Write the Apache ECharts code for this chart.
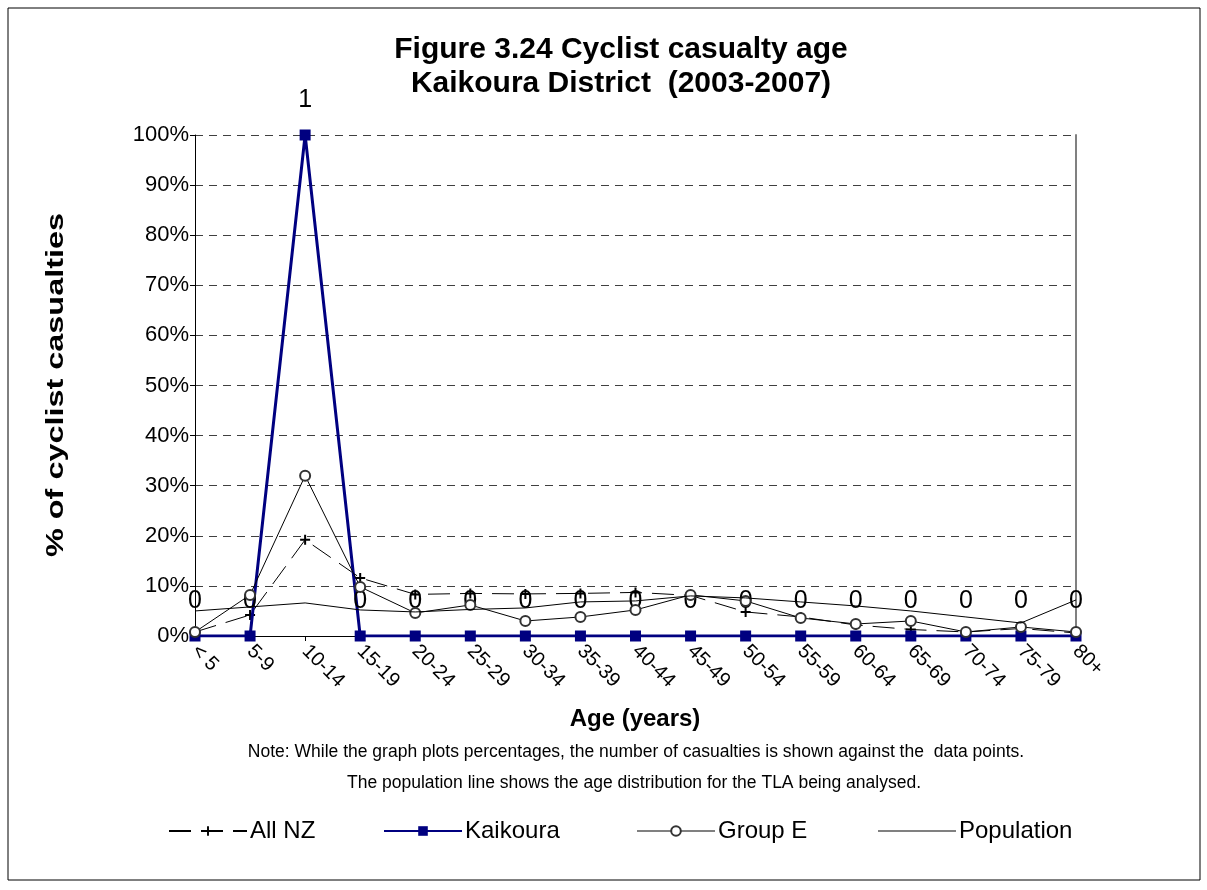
<!DOCTYPE html>
<html>
<head>
<meta charset="utf-8">
<script src="https://cdn.jsdelivr.net/npm/echarts@6/dist/echarts.min.js"></script>
<style>
html,body{margin:0;padding:0;background:#fff;}
#chart{width:1207px;height:890px;}
</style>
</head>
<body>
<div id="chart"></div>
<script>
var categories = ['< 5','5-9','10-14','15-19','20-24','25-29','30-34','35-39','40-44','45-49','50-54','55-59','60-64','65-69','70-74','75-79','80+'];
var allNZ = [0.8, 4.2, 19.2, 11.6, 8.3, 8.5, 8.4, 8.5, 8.7, 8.1, 4.8, 3.8, 2.2, 1.3, 0.8, 1.5, 0.6];
var kaikoura = [0, 0, 100, 0, 0, 0, 0, 0, 0, 0, 0, 0, 0, 0, 0, 0, 0];
var kaikouraCounts = [0, 0, 1, 0, 0, 0, 0, 0, 0, 0, 0, 0, 0, 0, 0, 0, 0];
var groupE = [0.8, 8.2, 32.0, 9.8, 4.6, 6.2, 3.0, 3.8, 5.2, 8.2, 7.0, 3.6, 2.4, 3.0, 0.8, 1.8, 0.8];
var population = [5.0, 5.8, 6.6, 5.2, 4.8, 5.3, 5.6, 6.8, 7.0, 8.0, 7.6, 6.8, 6.0, 5.0, 3.8, 2.6, 7.2];
var seriesNames = ['All NZ', 'Kaikoura', 'Group E', 'Population'];

var FONT = 'Liberation Sans, Arial, sans-serif';
var plusPath = 'path://M4,0 L6,0 L6,4 L10,4 L10,6 L6,6 L6,10 L4,10 L4,6 L0,6 L0,4 L4,4 Z';

function legendFor(name, left, extra) {
  var item = {name: name};
  if (extra) { for (var k in extra) item[k] = extra[k]; }
  return {
    left: left, top: 819, padding: 0,
    itemWidth: 78, itemHeight: 12,
    textStyle: {fontSize: 24, color: '#000', fontFamily: FONT, padding: [0, 0, 0, -2]},
    data: [item]
  };
}

var chart = echarts.init(document.getElementById('chart'), null, {renderer: 'canvas'});
var option = {
  backgroundColor: '#fff',
  animation: false,
  textStyle: {fontFamily: FONT},
  grid: {left: 195, right: 131, top: 135, bottom: 254, containLabel: false},
  graphic: [
    {type: 'rect', shape: {x: 8, y: 8, width: 1192, height: 872}, style: {fill: null, stroke: '#000', lineWidth: 1}, silent: true, z: -10},
    {type: 'text', x: 621, y: 50, style: {text: 'Figure 3.24 Cyclist casualty age', font: 'bold 30px ' + FONT, textAlign: 'center', textVerticalAlign: 'middle', fill: '#000'}},
    {type: 'text', x: 621, y: 84, style: {text: 'Kaikoura District  (2003-2007)', font: 'bold 30px ' + FONT, textAlign: 'center', textVerticalAlign: 'middle', fill: '#000'}},
    {type: 'text', x: 56, y: 385, rotation: Math.PI / 2, scaleX: 1.35, style: {text: '% of cyclist casualties', font: 'bold 24px ' + FONT, textAlign: 'center', textVerticalAlign: 'middle', fill: '#000'}},
    {type: 'text', x: 635, y: 719, style: {text: 'Age (years)', font: 'bold 24px ' + FONT, textAlign: 'center', textVerticalAlign: 'middle', fill: '#000'}},
    {type: 'text', x: 636, y: 752, style: {text: 'Note: While the graph plots percentages, the number of casualties is shown against the  data points.', font: '17.5px ' + FONT, textAlign: 'center', textVerticalAlign: 'middle', fill: '#000'}},
    {type: 'text', x: 634, y: 783, style: {text: 'The population line shows the age distribution for the TLA being analysed.', font: '17.5px ' + FONT, textAlign: 'center', textVerticalAlign: 'middle', fill: '#000'}}
  ],
  legend: [
    legendFor(seriesNames[0], 168),
    legendFor(seriesNames[1], 383),
    legendFor(seriesNames[2], 636, {lineStyle: {color: '#808080'}}),
    legendFor(seriesNames[3], 877, {lineStyle: {color: '#808080'}})
  ],
  xAxis: {
    type: 'category',
    data: categories,
    boundaryGap: false,
    axisLine: {lineStyle: {color: '#000', width: 1}},
    axisTick: {show: true, length: 5, lineStyle: {color: '#000'}},
    axisLabel: {rotate: -45, fontSize: 20, color: '#000', margin: 12, fontFamily: FONT},
    splitLine: {show: false}
  },
  yAxis: [{
    type: 'value', min: 0, max: 100, interval: 10,
    axisLine: {show: true, lineStyle: {color: '#000', width: 1}},
    axisTick: {show: true, length: 5, lineStyle: {color: '#000'}},
    axisLabel: {formatter: '{value}%', fontSize: 22, color: '#000', margin: 6, fontFamily: FONT},
    splitLine: {show: true, lineStyle: {color: '#404040', width: 1, type: [8, 6]}}
  }, {
    type: 'value', min: 0, max: 100, interval: 10, position: 'right',
    axisLine: {show: true, lineStyle: {color: '#808080', width: 2}},
    axisTick: {show: false}, axisLabel: {show: false}, splitLine: {show: false}
  }],
  series: [
    {
      name: seriesNames[0], type: 'line', data: allNZ,
      symbol: plusPath, symbolSize: 10,
      itemStyle: {color: '#000'},
      lineStyle: {color: '#000', width: 1, type: [22, 10]},
      z: 2
    },
    {
      name: seriesNames[1], type: 'line', data: kaikoura,
      symbol: 'rect', symbolSize: 11,
      itemStyle: {color: '#000080'},
      lineStyle: {color: '#000080', width: 3},
      label: {show: true, position: 'top', distance: 17, fontSize: 25, color: '#000', fontFamily: FONT,
        formatter: function (p) { return String(kaikouraCounts[p.dataIndex]); }},
      z: 3
    },
    {
      name: seriesNames[2], type: 'line', data: groupE,
      symbol: 'circle', symbolSize: 10,
      itemStyle: {color: '#fff', borderColor: '#333', borderWidth: 2},
      lineStyle: {color: '#000', width: 1},
      z: 4
    },
    {
      name: seriesNames[3], type: 'line', data: population,
      symbol: 'none',
      itemStyle: {color: 'rgba(0,0,0,0)'},
      lineStyle: {color: '#000', width: 1},
      z: 5
    }
  ]
};
chart.setOption(option);
</script>
</body>
</html>
